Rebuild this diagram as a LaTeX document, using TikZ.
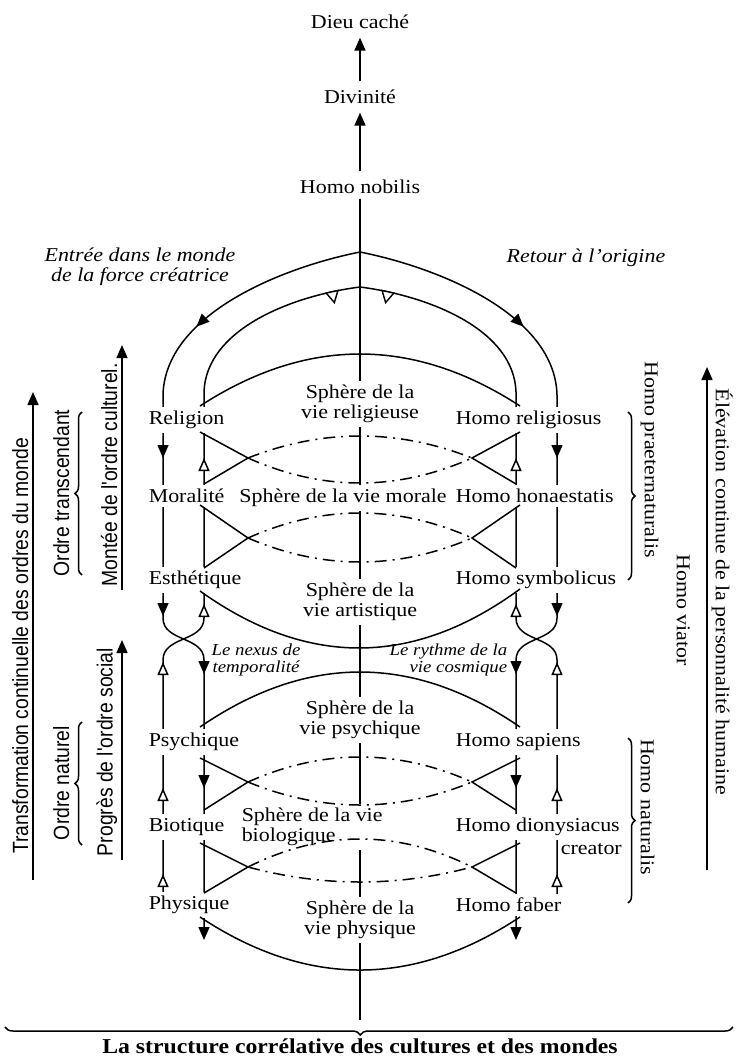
\documentclass[tikz,border=0pt]{standalone}
\usepackage{fontspec}
\setmainfont{Liberation Serif}[FakeStretch=1.12]
\newfontfamily\sidefont{Liberation Sans}[FakeStretch=0.88]
\usetikzlibrary{arrows.meta,decorations.pathreplacing,decorations.markings,positioning}

\begin{document}
\begin{tikzpicture}[x=0.5pt,y=-0.5pt,line width=0.75pt]

    \useasboundingbox (0,0) rectangle (737,1059);

    % let's define some key values
    \def\xm{360}
    \def\xol{163}
    \def\xil{204}
    \def\xir{516}
    \def\xor{557}
    \def\xlab{144}
    \def\xrab{451}
    \coordinate (axisend) at (\xm,1020);

    % Styles
    \tikzstyle{lbl}=[font=\fontsize{9.8}{10}\selectfont, inner sep=2pt, fill=white]
    \tikzstyle{sph}=[lbl, align=center]
    \tikzstyle{note}=[font=\fontsize{9.8}{10}\selectfont\itshape, align=center, inner sep=1pt]
    \tikzstyle{small note}=[font=\fontsize{8.4}{8.5}\selectfont\itshape, inner sep=1pt]
    \tikzstyle{sidelabel}=[font=\sidefont\fontsize{11}{12}\selectfont, inner sep=1pt]
    \tikzstyle{serifside}=[font=\fontsize{9.8}{10}\selectfont, inner sep=1pt]
    \tikzstyle{fulltip}=[-{Triangle[width=5.5pt,length=6.5pt]}]
    \tikzstyle{opentip}=[-{Triangle[width=5.5pt,length=6.5pt,fill=white]}]
    \tikzstyle{lensdash}=[dash pattern=on 6pt off 3pt on 1pt off 3pt]

    % top of the axis
    \node[lbl] (dieu) at (\xm,22) {Dieu caché};
    \node[lbl] (divin) at (\xm,97) {Divinité};
    \node[lbl] (nobilis) at (\xm,187) {Homo nobilis};
    \draw[fulltip, shorten <=2pt, shorten >=2pt] (nobilis) -- (divin);
    \draw[fulltip, shorten <=2pt, shorten >=2pt] (divin) -- (dieu);

    % central axis
    \draw (nobilis) -- (axisend);

    % descending flows (outer lines, crossing to the inner ones)
    \draw[fulltip] (\xol,395) -- (\xol,618) .. controls (\xol,642) and (\xil,636) .. (\xil,660) -- (\xil,940);
    \draw[fulltip] (\xor,395) -- (\xor,618) .. controls (\xor,642) and (\xir,636) .. (\xir,660) -- (\xir,940);
    % ascending flows
    \draw (\xol,905) -- (\xol,660) .. controls (\xol,636) and (\xil,642) .. (\xil,618) -- (\xil,392);
    \draw (\xor,905) -- (\xor,660) .. controls (\xor,636) and (\xir,642) .. (\xir,618) -- (\xir,392);

    % outer arch
    \draw[postaction=decorate, decoration={markings,
        mark=at position 0.7 with {\arrow{Triangle[width=5.5pt,length=6.5pt]}}}]
        (\xm,252) .. controls (280,268) and (165,315) .. (\xol,395);
    \draw[postaction=decorate, decoration={markings,
        mark=at position 0.7 with {\arrow{Triangle[width=5.5pt,length=6.5pt]}}}]
        (\xm,252) .. controls (440,268) and (555,315) .. (\xor,395);

    % inner arch with its small triangles
    \draw[postaction=decorate, decoration={markings,
        mark=at position 0.43 with {\draw[line width=0.7pt, fill=white] (-3pt,0) -- (3pt,0) -- (0,-5.5pt) -- cycle;},
        mark=at position 0.57 with {\draw[line width=0.7pt, fill=white] (-3pt,0) -- (3pt,0) -- (0,-5.5pt) -- cycle;}}]
        (\xil,392) .. controls (206,330) and (290,296) .. (\xm,287)
        .. controls (430,296) and (514,330) .. (\xir,392);

    % spheres
    \node[sph] (srelig) at (\xm,404) {Sphère de la\\vie religieuse};
    \node[lbl] (smorale) at (343,498) {Sphère de la vie morale};
    \node[sph] (sart) at (\xm,602) {Sphère de la\\vie artistique};
    \node[sph] (spsych) at (\xm,720) {Sphère de la\\vie psychique};
    \node[sph, align=left, anchor=west] (sbio) at (237,827) {Sphère de la vie\\biologique};
    \node[sph] (sphys) at (\xm,920) {Sphère de la\\vie physique};

    % left labels
    \node[lbl, anchor=west] (relig) at (\xlab,420) {Religion};
    \node[lbl, anchor=west] (moral) at (\xlab,496) {Moralité};
    \node[lbl, anchor=west] (esth) at (\xlab,580) {Esthétique};
    \node[lbl, anchor=west] (psych) at (\xlab,742) {Psychique};
    \node[lbl, anchor=west] (biot) at (\xlab,827) {Biotique};
    \node[lbl, anchor=west] (phys) at (\xlab,905) {Physique};

    % right labels
    \node[lbl, anchor=west] (hrelig) at (\xrab,420) {Homo religiosus};
    \node[lbl, anchor=west] (hhon) at (\xrab,496) {Homo honaestatis};
    \node[lbl, anchor=west] (hsymb) at (\xrab,580) {Homo symbolicus};
    \node[lbl, anchor=west] (hsap) at (\xrab,742) {Homo sapiens};
    \node[lbl, anchor=west] (hdion) at (\xrab,827) {Homo dionysiacus};
    \node[serifside, below left=0pt and 0pt of hdion.south east] (hcreat) {creator};
    \node[lbl, anchor=west] (hfab) at (\xrab,905) {Homo faber};

    % big arcs of the spheres
    \draw (200,406) .. controls (306.7,336.7) and (413.3,336.7) .. (520,406);
    \draw (200,591) .. controls (306.7,667.3) and (413.3,667.3) .. (520,589);
    \draw (200,727) .. controls (306.7,653.7) and (413.3,653.7) .. (520,727);
    \draw (200,917) .. controls (306.7,987.7) and (413.3,987.7) .. (520,917);

    % lenses between the levels
    \foreach \cu/\cl/\ya/\vt/\vb in {432/484/458/436/483, 505/568/538/513/562,
                                     758/810/782/757/805, 843/893/867/839/882} {
        \draw (\xil-4,\cu) -- (248,\ya) -- (\xil,\cl);
        \draw (\xir+4,\cu) -- (472,\ya) -- (\xir,\cl);
        % hidden part
        \draw[lensdash] (248,\ya) .. controls (322.7,{\ya+4/3*(\vt-\ya)}) and (397.3,{\ya+4/3*(\vt-\ya)}) .. (472,\ya);
        \draw[lensdash] (248,\ya) .. controls (322.7,{\ya+4/3*(\vb-\ya)}) and (397.3,{\ya+4/3*(\vb-\ya)}) .. (472,\ya);
    }

    % arrowheads along the flows
    \foreach \x/\y in {\xol/458, \xol/616, \xil/674, \xil/788, \xor/458, \xor/616, \xir/674, \xir/788}
        \draw[fulltip] (\x,\y-10) -- (\x,\y);
    \foreach \x/\y in {\xil/458, \xil/604, \xol/662, \xol/788, \xol/874, \xir/458, \xir/604, \xor/662, \xor/788, \xor/874}
        \draw[opentip] (\x,\y+10) -- (\x,\y);

    % notes
    \node[note] (entree) at (140,267) {Entrée dans le monde\\de la force créatrice};
    \node[note] (retour) at (586,258) {Retour à l'origine};
    \node[small note, align=center] (nexus) at (256,660) {Le nexus de\\temporalité};
    \node[small note, align=right, anchor=east] (rythme) at (510,660) {Le rythme de la\\vie cosmique};

    % orders of the world (left)
    \draw[fulltip] (33,880) -- (33,392);
    \node[sidelabel, rotate=90, anchor=south] (transf) at (31,646) {Transformation continuelle des ordres du monde};
    \draw[fulltip] (122,590) -- (122,345);
    \node[sidelabel, rotate=90, anchor=south] (montee) at (120,475) {Montée de l'ordre culturel.};
    \draw[decorate, decoration={brace, amplitude=3.5pt}] (82,575) -- (82,412);
    \node[sidelabel, rotate=90, anchor=south] (transc) at (72,493) {Ordre transcendant};
    \draw[fulltip] (122,860) -- (122,640);
    \node[sidelabel, rotate=90, anchor=south] (progres) at (120,752) {Progrès de l'ordre social};
    \draw[decorate, decoration={brace, amplitude=3.5pt}] (82,845) -- (82,722);
    \node[sidelabel, rotate=90, anchor=south] (naturel) at (72,783) {Ordre naturel};

    % human personality (right)
    \draw[decorate, decoration={brace, amplitude=3.5pt}] (628,412) -- (628,580);
    \node[serifside, rotate=-90, anchor=south] (praeter) at (638,460) {Homo praeternaturalis};
    \draw[decorate, decoration={brace, amplitude=3.5pt}] (628,738) -- (628,903);
    \node[serifside, rotate=-90, anchor=south] (natur) at (638,807) {Homo naturalis};
    \node[serifside, rotate=-90, anchor=south] (viator) at (674,610) {Homo viator};
    \draw[fulltip] (707,870) -- (707,367);
    \node[serifside, rotate=-90, anchor=south] (elev) at (709,592) {Élévation continue de la personnalité humaine};

    % bottom brace and title
    \draw[decorate, decoration={brace, amplitude=4pt, aspect=0.512}] (733,1027) -- (5,1027);
    \node[font=\fontsize{10.6}{12}\selectfont\bfseries] (titre) at (\xm,1046) {La structure corrélative des cultures et des mondes};

\end{tikzpicture}
\end{document}
